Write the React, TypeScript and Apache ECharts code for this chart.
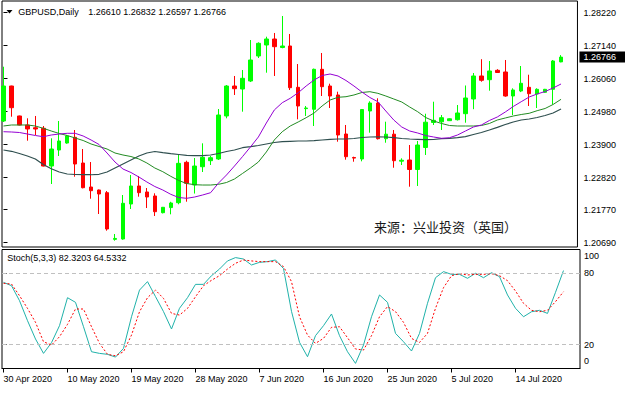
import React, { useEffect, useRef } from 'react';
import * as echarts from 'echarts';

// ---- Data (bar index 0 = 30 Apr 2020, Sun–Fri daily bars) ----
const opens = [
  1.24675, 1.25820, 1.24839, 1.24544, 1.24455, 1.24436, 1.23201, 1.23725, 1.23954, 1.24141,
  1.23299, 1.22514, 1.22416, 1.22328, 1.20800, 1.20812, 1.21958, 1.22547, 1.22351, 1.22220,
  1.21673, 1.21840, 1.22000, 1.23322, 1.22580, 1.23178, 1.23375, 1.23431, 1.24839, 1.25820,
  1.25722, 1.25984, 1.26803, 1.27163, 1.27359, 1.27080, 1.27130, 1.25778, 1.25080, 1.25058,
  1.26367, 1.25820, 1.25526, 1.24249, 1.23480, 1.23431, 1.25003, 1.25264, 1.24095, 1.24243,
  1.23360, 1.23398, 1.23087, 1.23807, 1.24626, 1.24649, 1.24685, 1.24717, 1.24914, 1.25395,
  1.26148, 1.26027, 1.26334, 1.26279, 1.25493, 1.25657, 1.25778, 1.25559, 1.25614, 1.25712,
  1.26610,
];
const highs = [
  1.26452, 1.25830, 1.24850, 1.24763, 1.24839, 1.24511, 1.24108, 1.24675, 1.24216, 1.24380,
  1.23758, 1.23332, 1.22430, 1.22383, 1.20976, 1.22252, 1.22907, 1.22874, 1.22481, 1.22308,
  1.21860, 1.22030, 1.23562, 1.23375, 1.23463, 1.23944, 1.23529, 1.25068, 1.25853, 1.26148,
  1.26344, 1.27326, 1.27251, 1.27434, 1.27556, 1.28112, 1.27523, 1.26540, 1.25166, 1.26390,
  1.26901, 1.25896, 1.25634, 1.24544, 1.23506, 1.25068, 1.25320, 1.25418, 1.24652, 1.24380,
  1.23453, 1.23889, 1.24020, 1.24913, 1.25306, 1.24871, 1.24763, 1.25198, 1.25837, 1.26246,
  1.26698, 1.26639, 1.26371, 1.26672, 1.25745, 1.26475, 1.26190, 1.25745, 1.25725, 1.26672,
  1.26832,
];
const lows = [
  1.24642, 1.24815, 1.24530, 1.24030, 1.24216, 1.23190, 1.22612, 1.23529, 1.23930, 1.22851,
  1.22470, 1.22131, 1.21630, 1.21084, 1.20757, 1.20790, 1.21794, 1.22197, 1.21826, 1.21565,
  1.21650, 1.21620, 1.21948, 1.22033, 1.22300, 1.23005, 1.23234, 1.23398, 1.24763, 1.25526,
  1.24980, 1.25950, 1.26737, 1.26256, 1.26148, 1.27055, 1.25690, 1.24730, 1.24839, 1.24511,
  1.25493, 1.25100, 1.23997, 1.23408, 1.23342, 1.23355, 1.24292, 1.24069, 1.23964, 1.23145,
  1.23234, 1.22524, 1.22547, 1.23562, 1.24544, 1.24380, 1.24675, 1.24690, 1.24619, 1.25061,
  1.25961, 1.25667, 1.26260, 1.25470, 1.24871, 1.25620, 1.25166, 1.25100, 1.25600, 1.25215,
  1.26597,
];
const closes = [
  1.25820, 1.25110, 1.24544, 1.24413, 1.24413, 1.23201, 1.23758, 1.24020, 1.24184, 1.23267,
  1.22491, 1.22393, 1.22285, 1.21139, 1.20830, 1.21981, 1.22547, 1.22328, 1.22187, 1.21705,
  1.21850, 1.21990, 1.23289, 1.22635, 1.23201, 1.23486, 1.23473, 1.24871, 1.25820, 1.25732,
  1.26073, 1.26672, 1.27218, 1.27359, 1.27107, 1.27130, 1.25765, 1.25166, 1.25100, 1.26367,
  1.25798, 1.25493, 1.24216, 1.23506, 1.23460, 1.25051, 1.25264, 1.24095, 1.24243, 1.23375,
  1.23390, 1.23087, 1.23889, 1.24635, 1.24697, 1.24783, 1.24747, 1.24937, 1.25428, 1.26148,
  1.26007, 1.26312, 1.26262, 1.25493, 1.25690, 1.25909, 1.25568, 1.25712, 1.25712, 1.26639,
  1.26766,
];
const maFast = [
  1.24324, 1.24315, 1.24298, 1.24249, 1.24200, 1.24161, 1.24216, 1.24249, 1.24272, 1.24272,
  1.24184, 1.24053, 1.23905, 1.23627, 1.23332, 1.23103, 1.22989, 1.22841, 1.22678, 1.22530,
  1.22416, 1.22275, 1.22170, 1.22144, 1.22186, 1.22252, 1.22327, 1.22645, 1.22907, 1.23201,
  1.23506, 1.23823, 1.24151, 1.24609, 1.25035, 1.25274, 1.25418, 1.25601, 1.25820, 1.26017,
  1.26164, 1.26213, 1.26148, 1.26001, 1.25820, 1.25624, 1.25444, 1.25306, 1.25002, 1.24707,
  1.24478, 1.24347, 1.24282, 1.24200, 1.24151, 1.24108, 1.24128, 1.24216, 1.24347, 1.24478,
  1.24544, 1.24691, 1.24806, 1.24969, 1.25149, 1.25306, 1.25460, 1.25559, 1.25640, 1.25755,
  1.25886,
];
const maMid = [
  1.24511, 1.24544, 1.24544, 1.24544, 1.24511, 1.24436, 1.24347, 1.24265, 1.24200, 1.24118,
  1.24036, 1.23922, 1.23840, 1.23758, 1.23627, 1.23562, 1.23512, 1.23431, 1.23300, 1.23136,
  1.23015, 1.22864, 1.22727, 1.22628, 1.22589, 1.22579, 1.22579, 1.22602, 1.22661, 1.22776,
  1.22956, 1.23136, 1.23332, 1.23660, 1.24053, 1.24324, 1.24511, 1.24642, 1.24783, 1.24937,
  1.25166, 1.25362, 1.25451, 1.25470, 1.25526, 1.25608, 1.25634, 1.25581, 1.25493, 1.25395,
  1.25297, 1.25133, 1.24979, 1.24789, 1.24675, 1.24593, 1.24527, 1.24511, 1.24511, 1.24511,
  1.24527, 1.24593, 1.24707, 1.24773, 1.24838, 1.24887, 1.24927, 1.25012, 1.25084, 1.25215,
  1.25385,
];
const maSlow = [
  1.23725, 1.23683, 1.23611, 1.23529, 1.23431, 1.23250, 1.23113, 1.23005, 1.22939, 1.22923,
  1.22916, 1.22916, 1.22930, 1.23005, 1.23136, 1.23267, 1.23398, 1.23529, 1.23627, 1.23676,
  1.23637, 1.23604, 1.23578, 1.23552, 1.23539, 1.23539, 1.23562, 1.23611, 1.23676, 1.23725,
  1.23800, 1.23833, 1.23873, 1.23922, 1.23971, 1.23997, 1.24010, 1.24020, 1.24020, 1.24030,
  1.24053, 1.24076, 1.24085, 1.24085, 1.24102, 1.24134, 1.24151, 1.24157, 1.24151, 1.24128,
  1.24102, 1.24085, 1.24076, 1.24062, 1.24069, 1.24095, 1.24108, 1.24128, 1.24161, 1.24233,
  1.24298, 1.24380, 1.24468, 1.24560, 1.24642, 1.24707, 1.24740, 1.24789, 1.24855, 1.24937,
  1.25067,
];
const stochK = [
  72.4, 69.6, 57.0, 40.2, 24.8, 12.7, 21.7, 36.0, 59.5, 55.6,
  35.1, 14.1, 12.7, 11.9, 9.6, 16.9, 43.5, 65.9, 73.0, 60.4,
  47.8, 33.2, 50.6, 59.5, 70.7, 70.7, 78.0, 83.6, 90.4, 93.2,
  92.0, 87.0, 89.2, 89.8, 91.2, 84.0, 48.0, 22.0, 9.9, 27.6,
  36.0, 45.8, 27.6, 14.1, 4.3, 19.7, 43.5, 61.8, 55.6, 29.5,
  22.5, 14.7, 29.5, 54.8, 76.3, 81.4, 79.1, 79.1, 75.8, 80.0,
  76.3, 80.5, 77.2, 61.8, 50.6, 43.5, 47.7, 48.9, 46.3, 64.0,
  82.32,
];
const stochD = [
  71.6, 71.0, 61.2, 50.5, 38.8, 22.5, 19.7, 26.7, 37.1, 50.0,
  50.0, 35.1, 21.1, 11.9, 10.7, 14.1, 28.1, 47.7, 59.5, 65.9,
  58.9, 46.3, 44.9, 50.5, 60.3, 69.6, 74.1, 78.0, 83.6, 88.4,
  91.2, 90.4, 89.8, 89.8, 89.8, 85.6, 73.0, 43.5, 28.1, 21.1,
  25.3, 34.6, 35.1, 25.9, 16.4, 15.5, 27.6, 43.5, 52.0, 47.8,
  38.8, 25.3, 21.9, 29.5, 50.6, 67.9, 78.0, 79.7, 78.6, 79.1,
  79.1, 79.7, 78.0, 73.8, 65.1, 54.8, 48.9, 47.7, 48.9, 56.2,
  64.53,
];
const priceTicks = [1.2069, 1.2177, 1.2282, 1.239, 1.2498, 1.2606, 1.2714, 1.2822];
const stochTicks = [0, 20, 80, 100];
const stochLevels = [20, 80];
const xTickIndex = [0, 8, 16, 24, 32, 40, 48, 56, 64];
const xTickLabels = [
  '30 Apr 2020', '10 May 2020', '19 May 2020', '28 May 2020', '7 Jun 2020',
  '16 Jun 2020', '25 Jun 2020', '5 Jul 2020', '14 Jul 2020',
];
const symbolText = 'GBPUSD,Daily';
const ohlcText = '1.26610 1.26832 1.26597 1.26766';
const stochText = 'Stoch(5,3,3) 82.3203 64.5332';
const sourceText = '来源：兴业投资（英国）';

const FONT = "'Liberation Sans', Arial, sans-serif";
const X_MIN = -0.1875;
const X_MAX = 72.0625;
const P_MIN = 1.2055;
const P_MAX = 1.28603;

export default function App() {
  const ref = useRef<HTMLDivElement>(null);

  useEffect(() => {
    if (!ref.current) return;
    const chart = echarts.init(ref.current, undefined, { renderer: 'svg' });
    const lastClose = closes[closes.length - 1];
    const candleData = opens.map((o, i) => [i, o, closes[i], lows[i], highs[i]]);
    const toXY = (arr: number[]) => arr.map((v, i) => [i, v]);
    const labelStyle = { fontSize: 9, fontFamily: FONT, color: '#000' };

    const option: any = {
      animation: false,
      backgroundColor: '#fff',
      grid: [
        { left: 2, top: 1, width: 578, height: 246, show: true, borderColor: '#000', borderWidth: 1, backgroundColor: '#fff' },
        { left: 2, top: 249.5, width: 578, height: 119, show: true, borderColor: '#000', borderWidth: 1, backgroundColor: '#fff' },
      ],
      xAxis: [
        { type: 'value', gridIndex: 0, min: X_MIN, max: X_MAX, show: false },
        {
          type: 'value', gridIndex: 1, min: X_MIN, max: X_MAX, position: 'bottom',
          splitLine: { show: false },
          axisLine: { show: true, lineStyle: { color: '#000', width: 1 } },
          axisTick: { show: true, customValues: xTickIndex, length: 4, lineStyle: { color: '#000' } },
          axisLabel: {
            ...labelStyle,
            customValues: xTickIndex,
            formatter: (v: number) => {
              const j = xTickIndex.indexOf(Math.round(v));
              return j >= 0 ? xTickLabels[j] : '';
            },
            align: 'left',
            margin: 6,
          },
        },
      ],
      yAxis: [
        {
          type: 'value', gridIndex: 0, position: 'right', min: P_MIN, max: P_MAX,
          splitLine: { show: false },
          axisLine: { show: false },
          axisTick: { show: true, customValues: priceTicks, length: 4, lineStyle: { color: '#000' } },
          axisLabel: { ...labelStyle, customValues: priceTicks, formatter: (v: number) => v.toFixed(5), margin: 6 },
        },
        {
          type: 'value', gridIndex: 0, position: 'right', min: P_MIN, max: P_MAX,
          splitLine: { show: false },
          axisLine: { show: false },
          axisTick: { show: false },
          axisLabel: {
            fontSize: 9, fontFamily: FONT, color: '#fff',
            customValues: [lastClose],
            formatter: (v: number) => v.toFixed(5),
            margin: 2,
            backgroundColor: '#000',
            padding: [1, 9, 0, 4],
            lineHeight: 10,
          },
        },
        {
          type: 'value', gridIndex: 1, position: 'right', min: 0, max: 100,
          splitLine: { show: false },
          axisLine: { show: false },
          axisTick: { show: true, customValues: stochTicks, length: 3, lineStyle: { color: '#000' } },
          axisLabel: {
            ...labelStyle,
            customValues: stochTicks,
            margin: 4,
            formatter: (v: number) => (v === 100 ? '{t|100}' : v === 0 ? '{b|0}' : String(v)),
            rich: {
              t: { fontSize: 9, fontFamily: FONT, color: '#000', padding: [13, 0, 0, 0] },
              b: { fontSize: 9, fontFamily: FONT, color: '#000', padding: [0, 0, 15, 0] },
            },
          },
        },
      ],
      series: [
        {
          type: 'candlestick', xAxisIndex: 0, yAxisIndex: 0,
          data: candleData,
          barWidth: 4,
          clip: true,
          itemStyle: {
            color: '#00ff00', color0: '#ff0000',
            borderColor: '#00ff00', borderColor0: '#ff0000',
            borderWidth: 1,
          },
          z: 2,
        },
        {
          type: 'line', xAxisIndex: 0, yAxisIndex: 0, data: toXY(maSlow),
          showSymbol: false, symbol: 'none', lineStyle: { color: '#2f4f4f', width: 1.2 }, z: 3,
        },
        {
          type: 'line', xAxisIndex: 0, yAxisIndex: 0, data: toXY(maMid),
          showSymbol: false, symbol: 'none', lineStyle: { color: '#228b22', width: 1 }, z: 3,
        },
        {
          type: 'line', xAxisIndex: 0, yAxisIndex: 0, data: toXY(maFast),
          showSymbol: false, symbol: 'none', lineStyle: { color: '#9400d3', width: 1 }, z: 3,
        },
        {
          type: 'line', xAxisIndex: 1, yAxisIndex: 2, data: toXY(stochK),
          showSymbol: false, symbol: 'none', lineStyle: { color: '#20b2aa', width: 1 }, z: 3,
          markLine: {
            silent: true, symbol: 'none', label: { show: false },
            lineStyle: { color: '#c0c0c0', type: [4, 3], width: 1 },
            data: stochLevels.map((v) => ({ yAxis: v })),
          },
        },
        {
          type: 'line', xAxisIndex: 1, yAxisIndex: 2, data: toXY(stochD),
          showSymbol: false, symbol: 'none', lineStyle: { color: '#ff0000', width: 1, type: [2, 2] }, z: 3,
        },
      ],
      graphic: [
        { type: 'polygon', z: 100, shape: { points: [[6.5, 10], [12.5, 10], [9.5, 13.5]] }, style: { fill: '#000' } },
        { type: 'text', z: 100, x: 18.3, y: 12, style: { text: symbolText, fill: '#000', fontSize: 9, fontFamily: FONT, verticalAlign: 'middle' } },
        { type: 'text', z: 100, x: 88.3, y: 12, style: { text: ohlcText, fill: '#000', fontSize: 9, fontFamily: FONT, verticalAlign: 'middle' } },
        { type: 'text', z: 100, x: 7.3, y: 257.5, style: { text: stochText, fill: '#000', fontSize: 9, fontFamily: FONT, verticalAlign: 'middle' } },
        { type: 'text', z: 100, x: 374, y: 226, style: { text: sourceText, fill: '#1a1a1a', fontSize: 13, fontFamily: "'Noto Sans CJK SC', sans-serif", verticalAlign: 'middle' } },
      ],
    };

    chart.setOption(option);
    return () => chart.dispose();
  }, []);

  return (
    <div
      ref={ref}
      style={{ position: 'fixed', left: 0, top: 0, width: 628, height: 395, background: '#fff' }}
    />
  );
}
